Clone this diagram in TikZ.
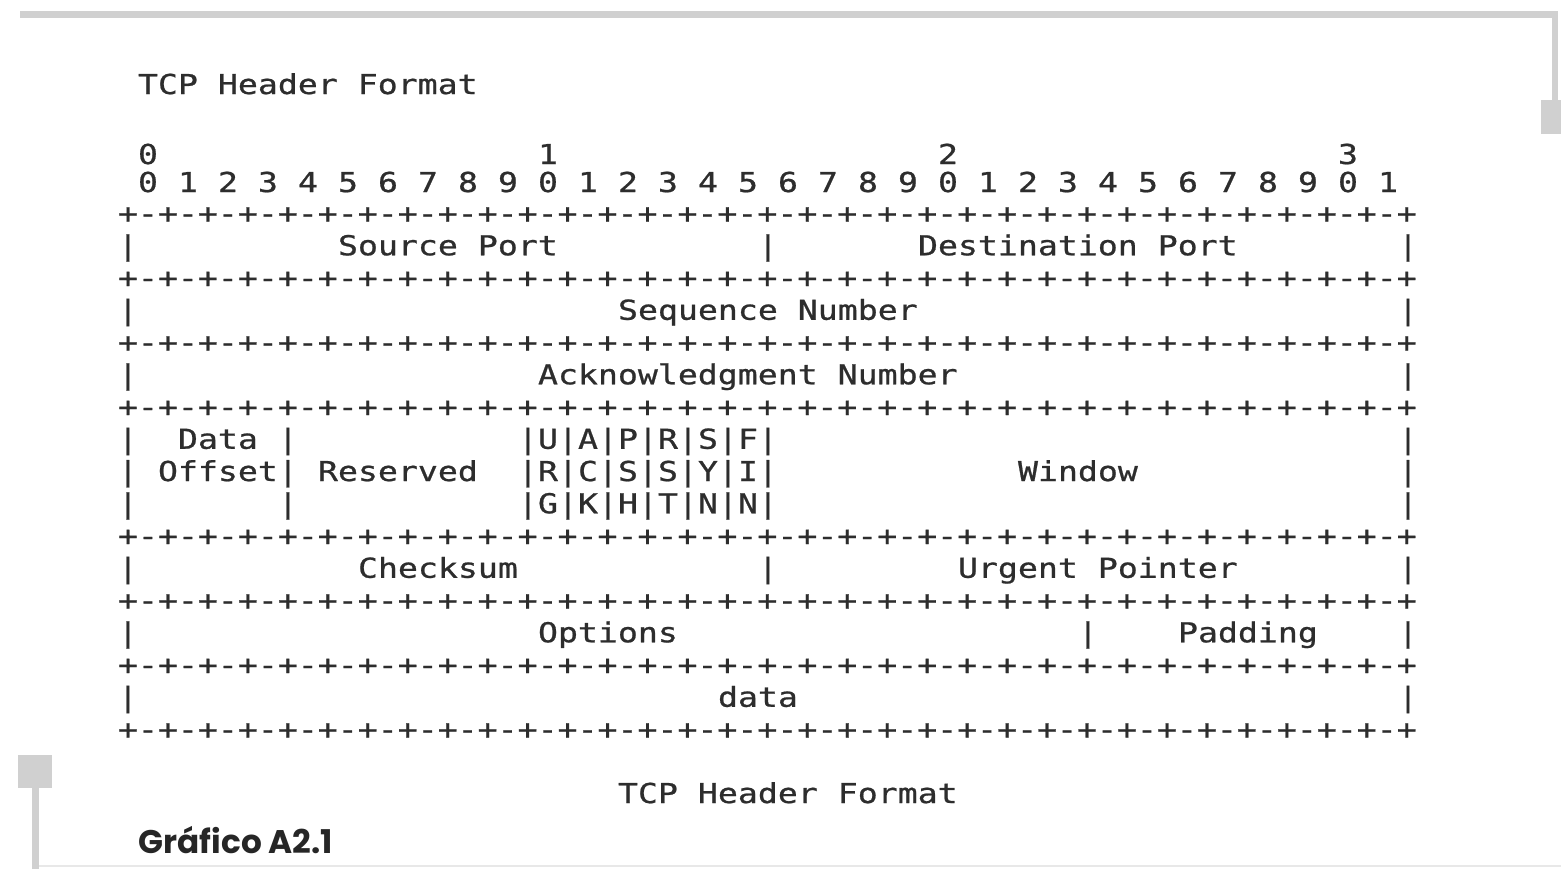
\documentclass[tikz,border=0pt]{standalone}
\usepackage{fontspec}
\usepackage{xcolor}
\usepackage{tikz}
\usetikzlibrary{positioning}
\newfontfamily\asciifont[FakeStretch=1.21,FakeBold=0.8]{DejaVu Sans Mono}
\newfontfamily\capfont{Poppins}
\definecolor{ink}{RGB}{45,45,45}
\definecolor{rulegray}{RGB}{208,208,208}
% column and line positions of the ascii grid (in px)
\newcommand{\colx}[1]{118+20.0*(#1)}
\newcommand{\rowy}[1]{223+32.25*((#1)-2)}
\newcommand{\edgeline}{\foreach \i in {1,...,32}{+-}+}

\begin{document}
\begin{tikzpicture}[x=0.01cm,y=-0.01cm]
  % TCP header as ascii art
  \tikzset{txt/.style={font={\fontsize{7.8}{9}\selectfont\asciifont},text=ink,anchor=base west,inner sep=0pt,outer sep=0pt}}
  \useasboundingbox (0,0) rectangle (1561,869);
  % page frame bits
  \fill[rulegray] (20,11) rectangle (1558,18);
  \fill[rulegray] (1552,11) rectangle (1558,100);
  \fill[rulegray] (1541,100) rectangle (1561,134);
  \fill[rulegray] (18,755) rectangle (52,788);
  \fill[rulegray] (32,788) rectangle (39,869);
  \fill[rulegray!50] (39,865) rectangle (1561,867);

  \node[txt] (title) at ({\colx{1}},94) {TCP Header Format};
  \foreach \d/\c in {0/1,1/21,2/41,3/61}
    \node[txt] (dec\d) at ({\colx{\c}},164) {\d};
  \foreach \b in {0,...,31}{
    \pgfmathtruncatemacro\u{mod(\b,10)}
    \node[txt] (bit\b) at ({\colx{1+2*\b}},192) {\u};
  }
  \foreach \k in {2,4,6,8,12,14,16,18}
    \node[txt] (edge\k) at ({\colx{0}},{\rowy{\k}}) {\edgeline};
  \foreach \k in {3,5,7,9,10,11,13,15,17}{
    \node[txt] (lft\k) at ({\colx{0}},{\rowy{\k}}) {|};
    \node[txt] (rgt\k) at ({\colx{64}},{\rowy{\k}}) {|};
  }
  \foreach \k/\c in {3/32,13/32,15/48,9/8,10/8,11/8}
    \node[txt] (bar\k-\c) at ({\colx{\c}},{\rowy{\k}}) {|};
  \foreach \c in {20,22,...,32}
    \foreach \k in {9,10,11}
      \node[txt] (fbar\k-\c) at ({\colx{\c}},{\rowy{\k}}) {|};
  \foreach \a/\b/\c [count=\i] in {U/R/G,A/C/K,P/S/H,R/S/T,S/Y/N,F/I/N}{
    \node[txt] (flagA\i) at ({\colx{19+2*\i}},{\rowy{9}}) {\a};
    \node[txt] (flagB\i) at ({\colx{19+2*\i}},{\rowy{10}}) {\b};
    \node[txt] (flagC\i) at ({\colx{19+2*\i}},{\rowy{11}}) {\c};
  }

  \node[txt] (srcport) at ({\colx{11}},{\rowy{3}}) {Source Port};
  \node[txt] (dstport) at ({\colx{40}},{\rowy{3}}) {Destination Port};
  \node[txt] (seqnum) at ({\colx{25}},{\rowy{5}}) {Sequence Number};
  \node[txt] (acknum) at ({\colx{21}},{\rowy{7}}) {Acknowledgment Number};
  \node[txt] (data) at ({\colx{3}},{\rowy{9}}) {Data};
  \node[txt] (offset) at ({\colx{2}},{\rowy{10}}) {Offset};
  \node[txt] (resvd) at ({\colx{10}},{\rowy{10}}) {Reserved};
  \node[txt] (window) at ({\colx{45}},{\rowy{10}}) {Window};
  \node[txt] (chksum) at ({\colx{12}},{\rowy{13}}) {Checksum};
  \node[txt] (urgent) at ({\colx{42}},{\rowy{13}}) {Urgent Pointer};
  \node[txt] (options) at ({\colx{21}},{\rowy{15}}) {Options};
  \node[txt] (padding) at ({\colx{53}},{\rowy{15}}) {Padding};
  \node[txt] (payload) at ({\colx{30}},{\rowy{17}}) {data};
  \node[txt] (caption) at ({\colx{25}},803) {TCP Header Format};

  \node[font={\fontsize{9.3}{11}\selectfont\capfont\bfseries},text=black!85,anchor=base west,inner sep=0pt] (figno) at (138,853) {Gráfico A2.1};
\end{tikzpicture}
\end{document}
